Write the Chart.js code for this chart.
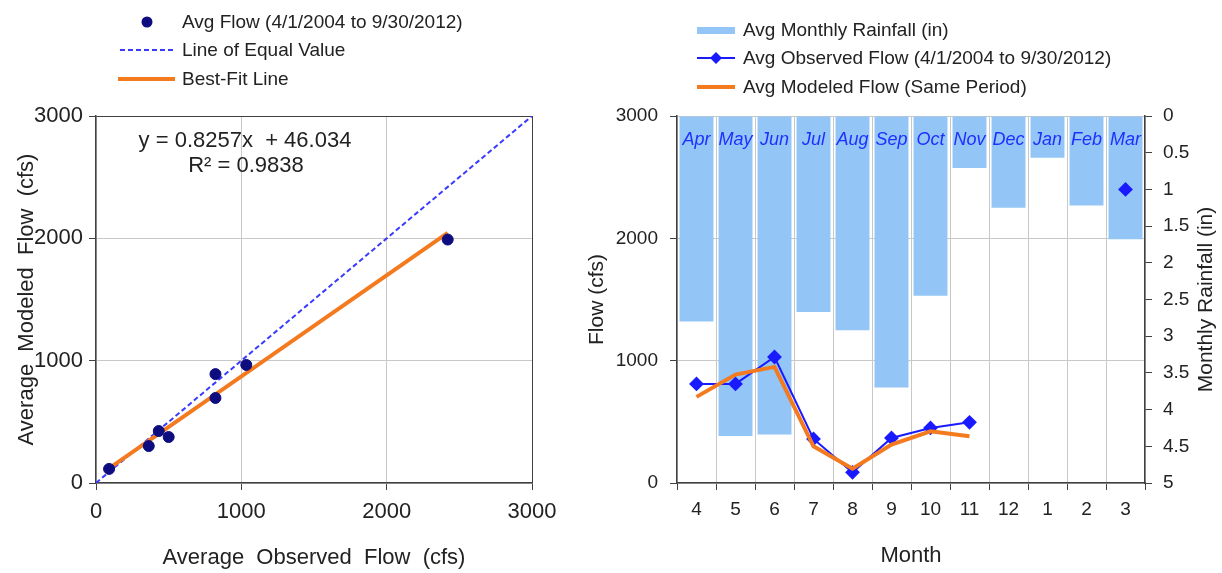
<!DOCTYPE html>
<html>
<head>
<meta charset="utf-8">
<script src="https://cdn.jsdelivr.net/npm/chart.js@4"></script>
<style>
  body { margin: 0; background: #fff; font-family: "Liberation Sans", Arial, sans-serif; color: #222; }
  #wrap { position: relative; width: 1222px; height: 573px; overflow: hidden; }
  #left-chart { position: absolute; left: 0; top: 0; }
  #right-chart { position: absolute; left: 560px; top: 0; }
  .lg { position: absolute; font-size: 19px; line-height: 24px; white-space: nowrap; }
  .sw { position: absolute; }
  .eq { position: absolute; font-size: 22px; line-height: 26px; width: 300px; text-align: center; white-space: nowrap; }
</style>
</head>
<body>
<div id="wrap">
  <canvas id="left-chart" width="560" height="573"></canvas>
  <canvas id="right-chart" width="662" height="573"></canvas>

  <!-- left legend -->
  <svg class="sw" style="left:110px;top:10px" width="72" height="80">
    <circle cx="37" cy="12" r="5.5" fill="#0d0d80"></circle>
    <line x1="10" y1="40" x2="65" y2="40" stroke="#3a3aff" stroke-width="2" stroke-dasharray="5,3"></line>
    <line x1="8" y1="69" x2="65" y2="69" stroke="#f47a20" stroke-width="4"></line>
  </svg>
  <div class="lg" style="left:182px;top:10px">Avg Flow (4/1/2004 to 9/30/2012)</div>
  <div class="lg" style="left:182px;top:38px">Line of Equal Value</div>
  <div class="lg" style="left:182px;top:67px">Best-Fit Line</div>

  <!-- equation -->
  <div class="eq" style="left:95px;top:127px">y = 0.8257x&nbsp; + 46.034</div>
  <div class="eq" style="left:96px;top:152px">R² = 0.9838</div>

  <!-- right legend -->
  <svg class="sw" style="left:695px;top:18px" width="45" height="80">
    <rect x="2" y="9" width="38" height="7" fill="#93c6f6"></rect>
    <line x1="2" y1="40" x2="40" y2="40" stroke="#1a1aff" stroke-width="2"></line>
    <polygon points="21,34 27,40 21,46 15,40" fill="#1a1aff"></polygon>
    <line x1="2" y1="69" x2="40" y2="69" stroke="#f47a20" stroke-width="4"></line>
  </svg>
  <div class="lg" style="left:743px;top:18px">Avg Monthly Rainfall (in)</div>
  <div class="lg" style="left:743px;top:46px">Avg Observed Flow (4/1/2004 to 9/30/2012)</div>
  <div class="lg" style="left:743px;top:75px">Avg Modeled Flow (Same Period)</div>
</div>

<script>
// Left chart: average observed vs modeled flow (cfs)
const observedAvg = [90, 363, 432, 500, 822, 822, 1034, 2420];
const modeledAvg = [115, 302, 425, 376, 890, 695, 965, 1990];
const equalX = [0, 3000];
const equalY = [0, 3000];
const fitX = [90, 2420];
const fitY = [120, 2044];

// Right chart: monthly values
const monthNums = ["4", "5", "6", "7", "8", "9", "10", "11", "12", "1", "2", "3"];
const monthNames = ["Apr", "May", "Jun", "Jul", "Aug", "Sep", "Oct", "Nov", "Dec", "Jan", "Feb", "Mar"];
const rainfall = [2.80, 4.36, 4.34, 2.67, 2.92, 3.70, 2.45, 0.71, 1.25, 0.57, 1.22, 1.68];
const observedFlow = [810, 810, 1030, 360, 87, 368, 450, 496, null, null, null, 2400];
const modeledFlow = [704, 886, 949, 300, 117, 314, 423, 382, null, null, null, null];

const FONT = '"Liberation Sans", Arial, sans-serif';
const gridGrey = "#c8c8c8";
const axisDark = "#404040";

Chart.defaults.font.family = FONT;
Chart.defaults.color = "#222";

function toPoints(xs, ys) {
  return xs.map((x, i) => ({ x: x, y: ys[i] }));
}

// plain numbers, no thousands separators
const plain = v => String(v);

new Chart(document.getElementById("left-chart"), {
  type: "scatter",
  data: {
    datasets: [
      {
        label: "Avg Flow (4/1/2004 to 9/30/2012)",
        data: toPoints(observedAvg, modeledAvg),
        backgroundColor: "#0d0d80",
        borderColor: "#0d0d80",
        pointRadius: 5.5,
        order: 0
      },
      {
        type: "line",
        label: "Best-Fit Line",
        data: toPoints(fitX, fitY),
        borderColor: "#f47a20",
        borderWidth: 4,
        pointRadius: 0,
        fill: false,
        order: 1
      },
      {
        type: "line",
        label: "Line of Equal Value",
        data: toPoints(equalX, equalY),
        borderColor: "#3a3aff",
        borderWidth: 2,
        borderDash: [5, 3],
        pointRadius: 0,
        fill: false,
        order: 2
      }
    ]
  },
  options: {
    responsive: false,
    animation: false,
    layout: { padding: { top: 116, right: 28, left: 0, bottom: 0 } },
    plugins: { legend: { display: false }, tooltip: { enabled: false } },
    scales: {
      x: {
        type: "linear",
        min: 0,
        max: 3000,
        ticks: { stepSize: 1000, font: { size: 22 }, padding: 9, color: "#222", callback: plain },
        grid: {
          color: ctx => (ctx.tick && ctx.tick.value === 3000 ? axisDark : gridGrey),
          tickColor: axisDark,
          tickLength: 7
        },
        border: { color: axisDark, width: 1.5 },
        title: {
          display: true,
          text: "Average  Observed  Flow  (cfs)",
          font: { size: 22 },
          color: "#222",
          padding: { top: 0, bottom: 2 }
        },
        afterFit: s => { s.height = 90; s.paddingRight = 0; s.paddingLeft = 0; }
      },
      y: {
        min: 0,
        max: 3000,
        ticks: { stepSize: 1000, font: { size: 22 }, padding: 6, color: "#222", callback: plain },
        grid: {
          color: ctx => (ctx.tick && ctx.tick.value === 3000 ? axisDark : gridGrey),
          tickColor: axisDark,
          tickLength: 7
        },
        border: { color: axisDark, width: 1.5 },
        title: {
          display: true,
          text: "Average  Modeled  Flow  (cfs)",
          font: { size: 22 },
          color: "#222",
          padding: { top: 14, bottom: 0 }
        },
        afterFit: s => { s.width = 96; s.paddingTop = 0; s.paddingBottom = 0; }
      }
    }
  }
});

const monthLabelPlugin = {
  id: "monthLabels",
  afterDatasetsDraw(chart) {
    const { ctx, chartArea } = chart;
    const x = chart.scales.x;
    ctx.save();
    ctx.font = "italic 18px " + FONT;
    ctx.fillStyle = "#1f2fff";
    ctx.textAlign = "center";
    ctx.textBaseline = "middle";
    monthNames.forEach((m, i) => {
      ctx.fillText(m, x.getPixelForValue(i), chartArea.top + 24);
    });
    ctx.restore();
  },
  afterDraw(chart) {
    // right axis title reads bottom-to-top
    const { ctx, chartArea } = chart;
    ctx.save();
    ctx.translate(646, (chartArea.top + chartArea.bottom) / 2);
    ctx.rotate(-Math.PI / 2);
    ctx.font = "21px " + FONT;
    ctx.fillStyle = "#222";
    ctx.textAlign = "center";
    ctx.textBaseline = "middle";
    ctx.fillText("Monthly Rainfall (in)", 0, 0);
    ctx.restore();
  }
};

new Chart(document.getElementById("right-chart"), {
  type: "bar",
  data: {
    labels: monthNums,
    datasets: [
      {
        type: "line",
        label: "Avg Modeled Flow (Same Period)",
        data: modeledFlow,
        borderColor: "#f47a20",
        borderWidth: 4,
        pointRadius: 0,
        spanGaps: false,
        yAxisID: "y",
        order: 0
      },
      {
        type: "line",
        label: "Avg Observed Flow (4/1/2004 to 9/30/2012)",
        data: observedFlow,
        borderColor: "#1a1aff",
        backgroundColor: "#1a1aff",
        borderWidth: 2,
        pointStyle: "rectRot",
        pointRadius: 6,
        spanGaps: false,
        yAxisID: "y",
        order: 1
      },
      {
        label: "Avg Monthly Rainfall (in)",
        data: rainfall,
        backgroundColor: "#93c6f6",
        borderWidth: 0,
        barPercentage: 0.87,
        categoryPercentage: 1,
        yAxisID: "y2",
        order: 2
      }
    ]
  },
  options: {
    responsive: false,
    animation: false,
    layout: { padding: { top: 116, right: 0, left: 0, bottom: 0 } },
    plugins: { legend: { display: false }, tooltip: { enabled: false } },
    scales: {
      x: {
        ticks: { font: { size: 19 }, padding: 8, color: "#222" },
        grid: { color: gridGrey, tickColor: axisDark, tickLength: 7 },
        border: { color: axisDark, width: 1.5 },
        title: {
          display: true,
          text: "Month",
          font: { size: 22 },
          color: "#222",
          padding: { top: 0, bottom: 4 }
        },
        afterFit: s => { s.height = 90; }
      },
      y: {
        position: "left",
        min: 0,
        max: 3000,
        ticks: { stepSize: 1000, font: { size: 19 }, padding: 12, color: "#222", callback: plain },
        grid: { color: gridGrey, tickColor: axisDark, tickLength: 7 },
        border: { color: axisDark, width: 1.5 },
        title: {
          display: true,
          text: "Flow (cfs)",
          font: { size: 21 },
          color: "#222",
          padding: { top: 25, bottom: 0 }
        },
        afterFit: s => { s.width = 117; }
      },
      y2: {
        position: "right",
        reverse: true,
        min: 0,
        max: 5,
        ticks: { stepSize: 0.5, font: { size: 19 }, padding: 11, color: "#222", callback: plain },
        grid: { drawOnChartArea: false, tickColor: axisDark, tickLength: 7 },
        border: { color: axisDark, width: 1.5 },
        afterFit: s => { s.width = 77; }
      }
    }
  },
  plugins: [monthLabelPlugin]
});
</script>
</body>
</html>
